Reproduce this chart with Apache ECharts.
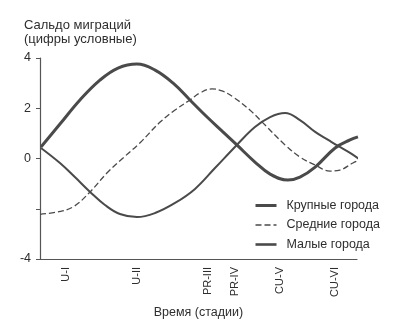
<!DOCTYPE html>
<html>
<head>
<meta charset="utf-8">
<script src="https://cdn.jsdelivr.net/npm/echarts@6/dist/echarts.min.js"></script>
<style>html,body{margin:0;padding:0;background:#fff;}#c{width:400px;height:325px;}</style>
</head>
<body>
<div id="c"></div>
<script>
// Stage positions and labels on the time axis
const stageLabels = ['U-I', 'U-II', 'PR-III', 'PR-IV', 'CU-V', 'CU-VI'];
const stagePos = [8.2, 30.6, 53.0, 61.5, 75.7, 93.1];

// Крупные города
const bigX = [0.3, 6.3, 12.6, 18.9, 24.6, 30.6, 36.3, 42, 47.3, 52.7, 57.7, 62.1, 67.8, 72.6, 78.2, 82, 86.8, 93.1, 97.8, 100.3];
const bigY = [0.46, 1.37, 2.33, 3.12, 3.6, 3.76, 3.52, 3.0, 2.33, 1.65, 1.06, 0.54, -0.14, -0.62, -0.86, -0.74, -0.34, 0.42, 0.74, 0.86];

// Средние города
const midX = [0, 5.4, 10.4, 15.8, 21.1, 26.2, 31.5, 37.9, 42.6, 47.3, 50.5, 54.3, 57.4, 60.9, 66.2, 71.0, 77.3, 82.0, 86.8, 91.5, 94.6, 98.7, 100.9];
const midY = [-2.22, -2.13, -1.93, -1.33, -0.58, 0.02, 0.62, 1.45, 1.93, 2.33, 2.61, 2.77, 2.69, 2.45, 1.93, 1.33, 0.54, 0.06, -0.26, -0.5, -0.46, -0.18, -0.06];

// Малые города
const smallX = [0.3, 6.3, 11.0, 15.8, 20.5, 25.2, 30.6, 36.3, 42.6, 48.9, 55.2, 62.1, 67.8, 72.6, 77.3, 82, 86.8, 90.9, 94.0, 97.8, 101.6];
const smallY = [0.42, -0.18, -0.74, -1.33, -1.85, -2.21, -2.33, -2.17, -1.77, -1.21, -0.38, 0.54, 1.25, 1.65, 1.81, 1.53, 1.06, 0.74, 0.5, 0.22, -0.1];

const yTicks = [-4, -2, 0, 2, 4];
const yShown = ['-4', '', '0', '2', '4'];

const seriesNames = ['Крупные города', 'Средние города', 'Малые города'];

const zip = (xs, ys) => xs.map((x, i) => [x, ys[i]]);
const FONT = '"Liberation Sans", Arial, sans-serif';
const INK = '#4a4a4a';
const TXT = '#2e2e2e';

const chart = echarts.init(document.getElementById('c'), null, {renderer: 'canvas'});
chart.setOption({
  backgroundColor: '#ffffff',
  animation: false,
  textStyle: {fontFamily: FONT},
  title: {
    text: 'Сальдо миграций\n(цифры условные)',
    left: 19, top: 13,
    textStyle: {fontFamily: FONT, fontSize: 13, fontWeight: 'normal', color: TXT, lineHeight: 14}
  },
  legend: {
    orient: 'vertical',
    left: 249, top: 194,
    itemWidth: 21, itemHeight: 12, itemGap: 6.5,
    data: [
      {name: seriesNames[0], lineStyle: {width: 3}},
      {name: seriesNames[1], lineStyle: {width: 1.3}},
      {name: seriesNames[2], lineStyle: {width: 2.6}}
    ],
    itemStyle: {opacity: 0},
    textStyle: {fontFamily: FONT, fontSize: 12.5, color: TXT, padding: [0, 0, 0, 5]}
  },
  grid: {left: 40, right: 43, top: 58, bottom: 66},
  xAxis: {
    type: 'value', min: 0, max: 100,
    name: 'Время (стадии)', nameLocation: 'middle', nameGap: 47,
    nameTextStyle: {fontFamily: FONT, fontSize: 12.5, color: TXT},
    axisLine: {show: true, onZero: false, lineStyle: {color: '#555', width: 1.2}},
    axisTick: {show: false},
    splitLine: {show: false},
    axisLabel: {
      rotate: 90, margin: 8, fontSize: 11, color: TXT, fontFamily: FONT,
      customValues: stagePos,
      formatter: v => { const i = stagePos.findIndex(p => Math.abs(p - v) < 0.01); return i >= 0 ? stageLabels[i] : ''; }
    }
  },
  yAxis: {
    type: 'value', min: -4, max: 4, interval: 2,
    axisLine: {show: true, lineStyle: {color: '#555', width: 1.2}},
    axisTick: {show: true, inside: false, length: 4, lineStyle: {color: '#555'}},
    splitLine: {show: false},
    axisLabel: {
      margin: 9, fontSize: 12.5, color: TXT, fontFamily: FONT,
      formatter: v => { const i = yTicks.indexOf(v); return i >= 0 ? yShown[i] : ''; }
    }
  },
  series: [
    {name: seriesNames[0], type: 'line', data: zip(bigX, bigY), smooth: 0.4, symbol: 'none', clip: false,
     lineStyle: {color: INK, width: 3}, itemStyle: {color: INK}},
    {name: seriesNames[1], type: 'line', data: zip(midX, midY), smooth: 0.4, symbol: 'none', clip: false,
     lineStyle: {color: INK, width: 1.3, type: [6, 3]}, itemStyle: {color: INK}},
    {name: seriesNames[2], type: 'line', data: zip(smallX, smallY), smooth: 0.4, symbol: 'none', clip: false,
     lineStyle: {color: INK, width: 2}, itemStyle: {color: INK}}
  ]
});
</script>
</body>
</html>
